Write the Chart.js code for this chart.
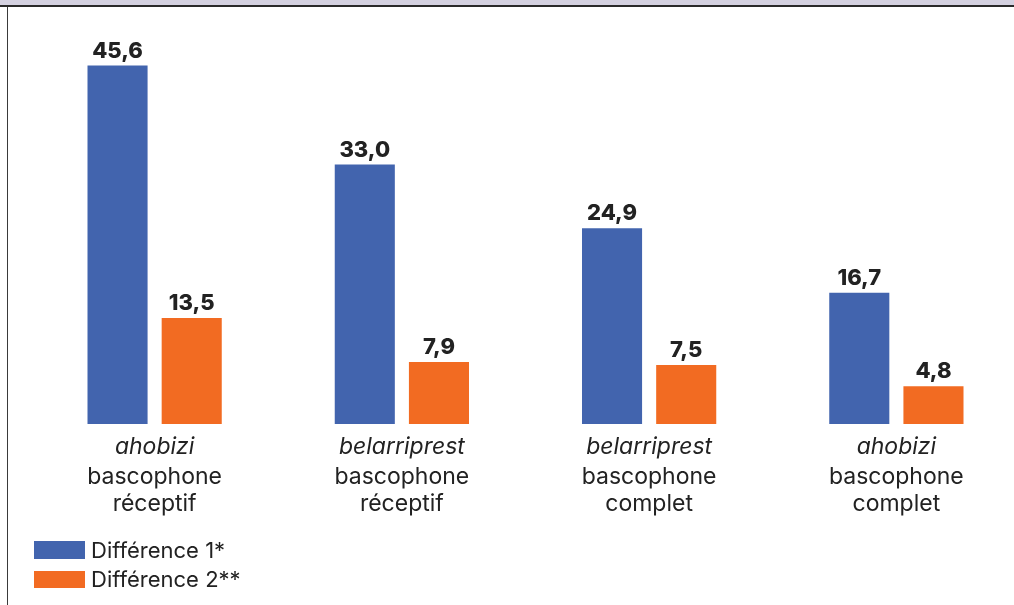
<!DOCTYPE html>
<html>
<head>
<meta charset="utf-8">
<script src="https://cdn.jsdelivr.net/npm/chart.js@4"></script>
<style>
  html, body { margin: 0; padding: 0; background: #fff; overflow: hidden; }
  body { width: 1014px; height: 605px; position: relative; font-family: Inter, sans-serif; }
  #topband { position: absolute; left: 0; top: 0; width: 1014px; height: 5px; background: #d4d1e0; border-bottom: 2px solid #2a2a2a; }
  #leftline { position: absolute; left: 7px; top: 7px; width: 1px; height: 598px; background: #3a3a3a; }
  #wrap { position: absolute; left: 0; top: 0; width: 1040px; height: 605px; }
  #legend { position: absolute; left: 34px; top: 535px; font-size: 22px; color: #222; }
  #legend div { height: 29.5px; display: flex; align-items: center; }
  #legend span.box { display: inline-block; width: 51px; height: 17.5px; margin-right: 6px; }
</style>
</head>
<body>
<div id="topband"></div>
<div id="leftline"></div>
<div id="wrap"><canvas id="chart"></canvas></div>
<div id="legend"></div>
<script>
// data
const categoryItalic = ['ahobizi', 'belarriprest', 'belarriprest', 'ahobizi'];
const categoryLines = [
    ['bascophone', 'réceptif'],
    ['bascophone', 'réceptif'],
    ['bascophone', 'complet'],
    ['bascophone', 'complet']
];
const seriesNames = ['Différence 1*', 'Différence 2**'];
const diff1 = [45.6, 33.0, 24.9, 16.7];
const diff2 = [13.5, 7.9, 7.5, 4.8];
const colors = ['#4264ae', '#f26b22'];

// labels above the bars, comma decimal
const valueLabels = {
    id: 'valueLabels',
    afterDatasetsDraw(chart) {
        const ctx = chart.ctx;
        ctx.save();
        ctx.font = '800 22px Inter';
        ctx.fillStyle = '#222';
        ctx.textAlign = 'center';
        ctx.textBaseline = 'alphabetic';
        chart.data.datasets.forEach((ds, i) => {
            chart.getDatasetMeta(i).data.forEach((bar, j) => {
                const txt = ds.data[j].toFixed(1).replace('.', ',');
                ctx.fillText(txt, bar.x, bar.y - 8);
            });
        });
        ctx.restore();
    }
};

// category labels under the groups (first line italic)
const categoryLabels = {
    id: 'categoryLabels',
    afterDraw(chart) {
        const ctx = chart.ctx;
        const xScale = chart.scales.x;
        const base = chart.chartArea.bottom;
        ctx.save();
        ctx.fillStyle = '#222';
        ctx.textAlign = 'center';
        ctx.textBaseline = 'alphabetic';
        categoryItalic.forEach((name, i) => {
            const x = xScale.getPixelForValue(i);
            ctx.font = 'italic 23px Inter';
            ctx.fillText(name, x, base + 30);
            ctx.font = '23px Inter';
            categoryLines[i].forEach((line, k) => {
                ctx.fillText(line, x, base + 60 + k * 27);
            });
        });
        ctx.restore();
    }
};

new Chart(document.getElementById('chart'), {
    type: 'bar',
    data: {
        labels: categoryItalic,
        datasets: [
            { label: seriesNames[0], data: diff1, backgroundColor: colors[0] },
            { label: seriesNames[1], data: diff2, backgroundColor: colors[1] }
        ]
    },
    options: {
        responsive: true,
        maintainAspectRatio: false,
        animation: false,
        datasets: {
            bar: { categoryPercentage: 0.6, barPercentage: 0.81 }
        },
        layout: {
            padding: { left: 31, right: 20, top: 31, bottom: 181 }
        },
        scales: {
            x: { display: false },
            y: { display: false, min: 0, max: 50 }
        },
        plugins: {
            legend: { display: false },
            tooltip: { enabled: false }
        }
    },
    plugins: [valueLabels, categoryLabels]
});

// legend
const legendEl = document.getElementById('legend');
seriesNames.forEach((name, i) => {
    legendEl.innerHTML += `<div><span class="box" style="background:${colors[i]}"></span>${name}</div>`;
});
</script>
</body>
</html>
